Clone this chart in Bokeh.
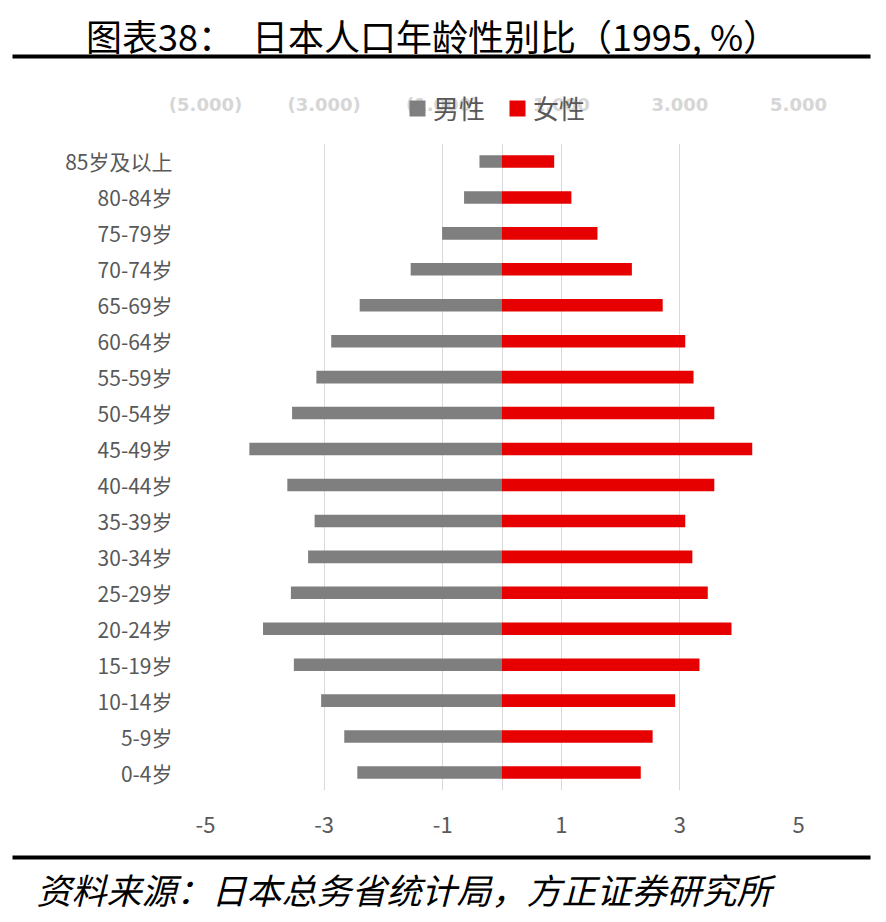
from bokeh.plotting import figure
from bokeh.layouts import column
from bokeh.models import (FactorRange, Range1d, FixedTicker, Legend, LegendItem,
                          Label, BoxAnnotation, ColumnDataSource)
from bokeh.core.properties import value
from bokeh.embed import file_html
from bokeh.resources import INLINE

# ---------------- data ----------------
ages = ["0-4岁", "5-9岁", "10-14岁", "15-19岁", "20-24岁", "25-29岁", "30-34岁", "35-39岁",
        "40-44岁", "45-49岁", "50-54岁", "55-59岁", "60-64岁", "65-69岁", "70-74岁",
        "75-79岁", "80-84岁", "85岁及以上"]
male = [-2.44, -2.66, -3.05, -3.51, -4.03, -3.56, -3.27, -3.16, -3.62, -4.26,
        -3.54, -3.13, -2.88, -2.40, -1.54, -1.01, -0.64, -0.38]
female = [2.34, 2.54, 2.92, 3.33, 3.87, 3.47, 3.21, 3.09, 3.58, 4.22,
          3.58, 3.23, 3.09, 2.71, 2.19, 1.61, 1.17, 0.88]
x_ticks = [-5, -3, -1, 1, 3, 5]
bottom_tick_labels = ["-5", "-3", "-1", "1", "3", "5"]
top_tick_labels = ["(5.000)", "(3.000)", "(1.000)", "1.000", "3.000", "5.000"]
series_names = ["男性", "女性"]
title_text = "图表38：\u3000日本人口年龄性别比（1995, %）"
source_text = "资料来源：日本总务省统计局，方正证券研究所"

GRAY = "#7f7f7f"
RED = "#e60000"
TXT = "#595959"
CJK = "Noto Sans CJK SC"

W = 886
HEAD_H, FOOT_H = 130, 77
MAIN_H = 922 - HEAD_H - FOOT_H
BL, BR = 205, 88            # main frame borders left / right
UNIT = (W - BL - BR) / 10.0  # pixels per x unit


def bare(h, xr, yr):
    f = figure(width=W, height=h, output_backend="svg", toolbar_location=None,
               x_range=xr, y_range=yr, x_axis_type=None, y_axis_type=None,
               min_border=0, frame_align=False)
    f.outline_line_color = None
    f.grid.visible = False
    return f


# ---------------- head: title, rule, faint top labels, legend ----------------
head = bare(HEAD_H, Range1d(-5 - BL / UNIT, 5 + BR / UNIT), Range1d(0, HEAD_H))
head.add_layout(Label(x=432, y=HEAD_H - 34, x_units="screen", y_units="screen",
                      text=title_text, text_font=CJK, text_font_size="36px",
                      text_color="black", text_align="center", text_baseline="middle"))
head.add_layout(BoxAnnotation(left=12, right=870, bottom=HEAD_H - 58, top=HEAD_H - 54,
                              left_units="screen", right_units="screen",
                              top_units="screen", bottom_units="screen",
                              fill_color="black", fill_alpha=1, line_color=None))
head.text(x=x_ticks, y=HEAD_H - 104, text=top_tick_labels,
          text_font=value("DejaVu Sans"), text_font_style="bold", text_font_size="18px",
          text_color="#d6d6d6", text_align="center", text_baseline="middle")
# legend proxies (zero-size, only their styles are used by the legend)
proxy_src = ColumnDataSource(dict(y=[0], l=[0], r=[0]))
proxy_m = head.hbar(y="y", left="l", right="r", height=0, source=proxy_src,
                    fill_color=GRAY, line_color=None)
proxy_f = head.hbar(y="y", left="l", right="r", height=0, source=proxy_src,
                    fill_color=RED, line_color=None)
legend = Legend(items=[LegendItem(label=series_names[0], renderers=[proxy_m]),
                       LegendItem(label=series_names[1], renderers=[proxy_f])],
                orientation="horizontal", location=(407, 4),
                label_text_font=CJK, label_text_font_size="26px", label_text_color=TXT,
                glyph_width=20, glyph_height=20, label_standoff=6, spacing=22,
                padding=0, margin=0, background_fill_alpha=0, border_line_color=None)
head.add_layout(legend)

# ---------------- main chart ----------------
src = ColumnDataSource(dict(age=ages, male=male, female=female, zero=[0] * len(ages)))

p = figure(width=W, height=MAIN_H, output_backend="svg", toolbar_location=None,
           y_range=FactorRange(*ages), x_range=Range1d(-5, 5), frame_align=False,
           min_border_left=BL, min_border_right=BR, min_border_top=13, min_border_bottom=55)
p.outline_line_color = None

p.hbar(y="age", left="male", right="zero", height=0.35, source=src,
       fill_color=GRAY, line_color=None)
p.hbar(y="age", left="zero", right="female", height=0.35, source=src,
       fill_color=RED, line_color=None)

p.ygrid.grid_line_color = None
p.xgrid.ticker = FixedTicker(ticks=[-5, -3, -1, 0, 1, 3, 5])
p.xgrid.grid_line_color = "#d9d9d9"
p.xgrid.grid_line_width = 1

xa = p.xaxis[0]
xa.ticker = FixedTicker(ticks=x_ticks)
xa.major_label_overrides = {t: s for t, s in zip(x_ticks, bottom_tick_labels)}
xa.axis_line_color = None
xa.major_tick_line_color = None
xa.minor_tick_line_color = None
xa.major_label_text_font = CJK
xa.major_label_text_font_size = "22px"
xa.major_label_text_color = TXT
xa.major_label_standoff = 20

ya = p.yaxis[0]
ya.axis_line_color = None
ya.major_tick_line_color = None
ya.major_label_text_font = CJK
ya.major_label_text_font_size = "21px"
ya.major_label_text_color = TXT
ya.major_label_standoff = 27

# ---------------- footer: rule and source note ----------------
foot = bare(FOOT_H, Range1d(0, W), Range1d(0, FOOT_H))
foot.add_layout(BoxAnnotation(left=12, right=870, bottom=FOOT_H - 14, top=FOOT_H - 10,
                              left_units="screen", right_units="screen",
                              top_units="screen", bottom_units="screen",
                              fill_color="black", fill_alpha=1, line_color=None))
foot.add_layout(Label(x=36, y=FOOT_H - 43, x_units="screen", y_units="screen",
                      text=source_text, text_font=CJK, text_font_size="35px",
                      text_font_style="italic", text_color="black",
                      text_align="left", text_baseline="middle"))

layout = column(head, p, foot, spacing=0)
open("out.html", "w").write(file_html(layout, INLINE))
